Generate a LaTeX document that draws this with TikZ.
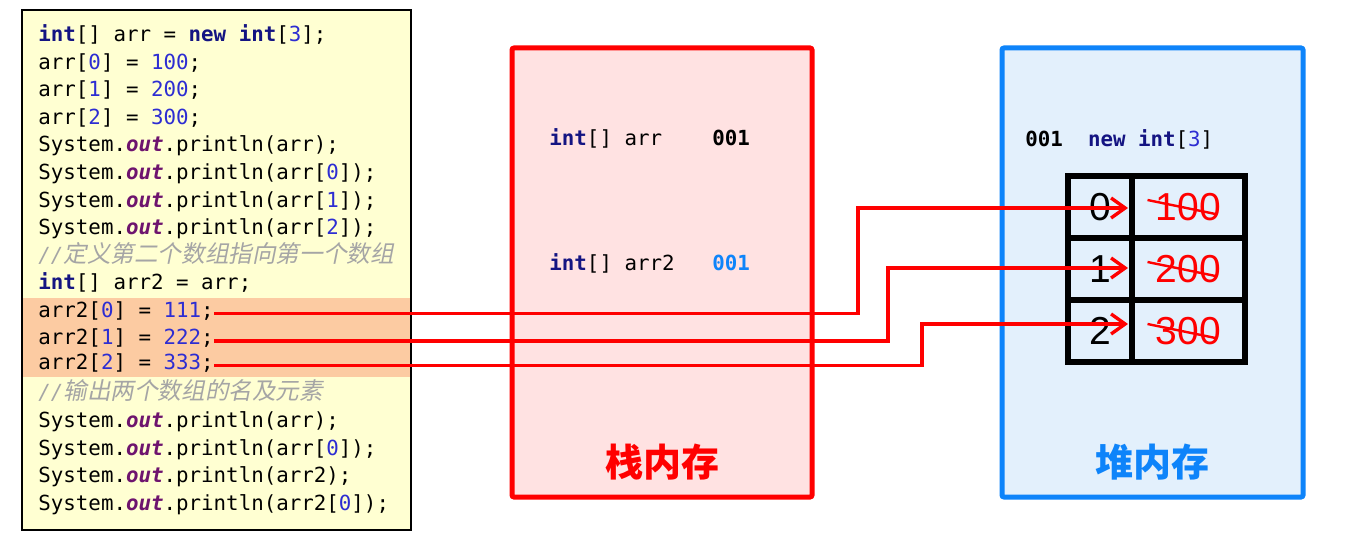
\documentclass[tikz,border=0pt]{standalone}
\usepackage{fontspec}
\usepackage{xcolor}
\usepackage{tikz}
\usetikzlibrary{arrows.meta}
\newfontfamily\codefont{DejaVu Sans Mono}
\newfontfamily\cjk{Noto Sans CJK SC}
\newfontfamily\cjkslant[FakeSlant=0.2]{Noto Sans CJK SC}
\newfontfamily\digitfont{Liberation Sans}
\definecolor{kwnavy}{RGB}{20,20,130}
\definecolor{numblue}{RGB}{45,45,210}
\definecolor{outpurple}{RGB}{110,20,110}
\definecolor{cmtgray}{RGB}{165,165,165}
\definecolor{codeyellow}{RGB}{255,255,210}
\definecolor{bandorange}{RGB}{252,203,162}
\definecolor{stackpink}{RGB}{255,226,226}
\definecolor{heapfill}{RGB}{227,240,252}
\definecolor{heapblue}{RGB}{14,132,250}
\newcommand{\kw}[1]{\textcolor{kwnavy}{\textbf{#1}}}
\newcommand{\nm}[1]{\textcolor{numblue}{#1}}
\newcommand{\outf}{\textcolor{outpurple}{\textbf{\textit{out}}}}
\newcommand{\cmt}[1]{\textcolor{cmtgray}{\textit{//}{\cjkslant\fontsize{11.8pt}{12pt}\selectfont #1}}}

\begin{document}
\begin{tikzpicture}[x=0.5pt, y=-0.5pt,
    code/.style={anchor=base west, inner sep=0pt, text height=7pt, text depth=3pt,
      font=\codefont\fontsize{10.4pt}{12pt}\selectfont},
    cell/.style={draw, line width=2.8pt, minimum height=31pt, inner sep=0pt, outer sep=0pt,
      font=\digitfont\fontsize{19.5pt}{19.5pt}\selectfont},
    title/.style={font=\cjk\bfseries\fontsize{19pt}{19pt}\selectfont},
    ptr/.style={red, line width=1.7pt, -{Straight Barb[length=7pt,width=10pt]}, shorten >=2pt},
    strike/.style={red, line width=1.2pt}]
  \useasboundingbox (0,0) rectangle (1352,535);
  \fill[white] (0,0) rectangle (1352,535);
  % code listing
  \draw[fill=codeyellow, line width=1pt] (22,10) rectangle (411,530);
  \fill[bandorange] (23,298) rectangle (410,377);
  \node[code] (l1) at (38,41.7) {\kw{int}[] arr = \kw{new} \kw{int}[\nm{3}];};
  \node[code] (l2) at (38,69.3) {arr[\nm{0}] = \nm{100};};
  \node[code] (l3) at (38,96.8) {arr[\nm{1}] = \nm{200};};
  \node[code] (l4) at (38,124.4) {arr[\nm{2}] = \nm{300};};
  \node[code] (l5) at (38,151.9) {System.\outf.println(arr);};
  \node[code] (l6) at (38,179.5) {System.\outf.println(arr[\nm{0}]);};
  \node[code] (l7) at (38,207.0) {System.\outf.println(arr[\nm{1}]);};
  \node[code] (l8) at (38,234.6) {System.\outf.println(arr[\nm{2}]);};
  \node[code] (l9) at (38,262.1) {\cmt{定义第二个数组指向第一个数组}};
  \node[code] (l10) at (38,289.7) {\kw{int}[] arr2 = arr;};
  \node[code] (l11) at (38,317.2) {arr2[\nm{0}] = \nm{111};};
  \node[code] (l12) at (38,344.8) {arr2[\nm{1}] = \nm{222};};
  \node[code] (l13) at (38,369.3) {arr2[\nm{2}] = \nm{333};};
  \node[code] (l14) at (38,399.9) {\cmt{输出两个数组的名及元素}};
  \node[code] (l15) at (38,427.4) {System.\outf.println(arr);};
  \node[code] (l16) at (38,455.0) {System.\outf.println(arr[\nm{0}]);};
  \node[code] (l17) at (38,482.5) {System.\outf.println(arr2);};
  \node[code] (l18) at (38,510.1) {System.\outf.println(arr2[\nm{0}]);};
  % stack
  \draw[red, fill=stackpink, line width=2.5pt, rounded corners=1pt] (512,48) rectangle (812,497);
  \node[code] (s1) at (549,145) {\kw{int}[] arr};
  \node[code] (s1v) at (712,145) {\textbf{001}};
  \node[code] (s2) at (549,270) {\kw{int}[] arr2};
  \node[code] (s2v) at (712,270) {\textcolor{heapblue}{\textbf{001}}};
  \node[title, text=red] (stack) at (662,462) {栈内存};
  % heap
  \draw[heapblue, fill=heapfill, line width=2.5pt, rounded corners=1pt] (1002,48) rectangle (1303,497);
  \node[code] (h1) at (1025,146) {\textbf{001}~~\kw{new} \kw{int}[\nm{3}]};
  \node[cell, minimum width=32pt] (idx0) at (1100,207) {0};
  \node[cell, minimum width=32pt] (idx1) at (1100,269) {1};
  \node[cell, minimum width=32pt] (idx2) at (1100,331) {2};
  \node[cell, minimum width=56.5pt, text=red] (val0) at (1188.5,207) {100};
  \node[cell, minimum width=56.5pt, text=red] (val1) at (1188.5,269) {200};
  \node[cell, minimum width=56.5pt, text=red] (val2) at (1188.5,331) {300};
  \draw[strike] ([shift={(-41,-7)}]val0.center) -- ([shift={(27,7)}]val0.center);
  \draw[strike] ([shift={(-41,-7)}]val1.center) -- ([shift={(27,7)}]val1.center);
  \draw[strike] ([shift={(-41,-7)}]val2.center) -- ([shift={(27,7)}]val2.center);
  \node[title, text=heapblue] (heap) at (1152,462) {堆内存};
  % pointers
  \coordinate (k0) at (858,208);
  \coordinate (k1) at (888,268);
  \coordinate (k2) at (922,324);
  \draw[ptr] (l11.east) -| (k0) -- (k0 -| idx0.east);
  \draw[ptr] (l12.east) -| (k1) -- (k1 -| idx1.east);
  \draw[ptr] (l13.east) -| (k2) -- (k2 -| idx2.east);
\end{tikzpicture}
\end{document}
